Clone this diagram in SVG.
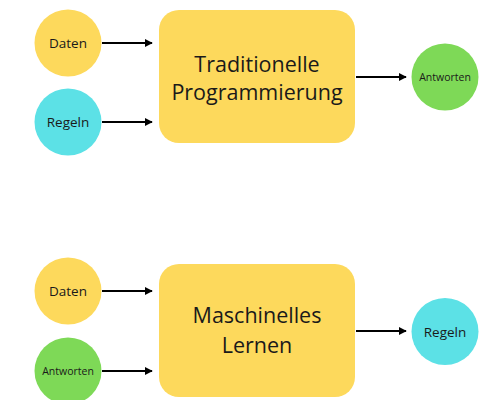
<svg xmlns="http://www.w3.org/2000/svg" width="500" height="400" viewBox="0 0 500 400">
<defs>
<style>
.y{fill:#FDD95C}.c{fill:#5CE1E6}.g{fill:#7ED957}
text{font-family:"Open Sans","Liberation Sans",sans-serif;fill:#1a1a1a;text-anchor:middle}
.s{font-size:13.5px}.xs{font-size:10.5px}.b{font-size:21.5px}
.e{stroke:#000;stroke-width:2;fill:none;marker-end:url(#ah)}
</style>
<marker id="ah" viewBox="0 0 10 10" refX="9" refY="5" markerWidth="4" markerHeight="4" orient="auto"><path d="M0,0 L10,5 L0,10 z" fill="#000"/></marker>
</defs>
<rect width="500" height="400" fill="#fff"/>
<g id="connectors">
<line class="e" x1="102" y1="43" x2="152" y2="43"/>
<line class="e" x1="102" y1="122" x2="152" y2="122"/>
<line class="e" x1="356" y1="77" x2="406" y2="77"/>
<line class="e" x1="102" y1="291" x2="152" y2="291"/>
<line class="e" x1="102" y1="371" x2="152" y2="371"/>
<line class="e" x1="356" y1="331" x2="406" y2="331"/>
</g>
<g id="daten1"><circle class="y" cx="68" cy="43" r="33.5"/><text class="s" x="68" y="48">Daten</text></g>
<g id="regeln1"><circle class="c" cx="68" cy="122" r="33.5"/><text class="s" x="68" y="127">Regeln</text></g>
<g id="trad"><rect class="y" x="159" y="10" width="196" height="133" rx="20"/><text class="b" x="257" y="72">Traditionelle</text><text class="b" x="257" y="100">Programmierung</text></g>
<g id="antworten1"><circle class="g" cx="445" cy="77" r="33.5"/><text class="xs" x="445" y="81">Antworten</text></g>
<g id="daten2"><circle class="y" cx="68" cy="291" r="33.5"/><text class="s" x="68" y="296">Daten</text></g>
<g id="antworten2"><circle class="g" cx="68" cy="371" r="33.5"/><text class="xs" x="68" y="375">Antworten</text></g>
<g id="ml"><rect class="y" x="159" y="264" width="196" height="133" rx="20"/><text class="b" x="257" y="323">Maschinelles</text><text class="b" x="257" y="353">Lernen</text></g>
<g id="regeln2"><circle class="c" cx="445" cy="331.5" r="33.5"/><text class="s" x="445" y="336.5">Regeln</text></g>
</svg>
